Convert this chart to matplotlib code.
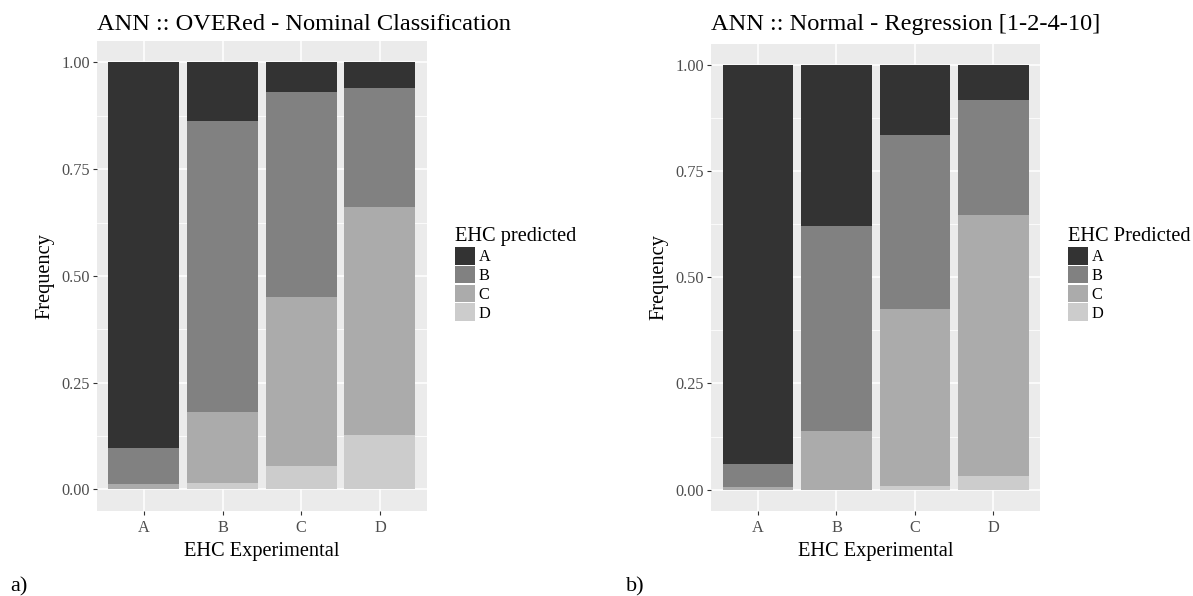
import numpy as np
import matplotlib
matplotlib.use('Agg')
import matplotlib.pyplot as plt
from matplotlib.patches import Patch
from matplotlib.ticker import MultipleLocator

plt.rcParams['font.family'] = ['Liberation Serif', 'DejaVu Serif']

# categories
experimental = ['A', 'B', 'C', 'D']
predicted = ['A', 'B', 'C', 'D']
colors = ['#333333', '#818181', '#ABABAB', '#CCCCCC']

# left panel: share of each predicted class per experimental class
left_A = [0.902, 0.138, 0.068, 0.059]
left_B = [0.086, 0.681, 0.481, 0.279]
left_C = [0.012, 0.166, 0.396, 0.535]
left_D = [0.000, 0.015, 0.055, 0.127]

# right panel
right_A = [0.940, 0.379, 0.165, 0.082]
right_B = [0.055, 0.483, 0.410, 0.271]
right_C = [0.005, 0.138, 0.417, 0.616]
right_D = [0.000, 0.000, 0.008, 0.031]

fig = plt.figure(figsize=(11.93, 5.96), dpi=100)


def panel(rect, shares, title, title_pad, legend_title, legend_x):
    ax = fig.add_axes(rect)
    ax.set_facecolor('#EBEBEB')
    x = np.arange(len(experimental))
    # stack from D at bottom up to A at top
    bottom = np.zeros(len(experimental))
    for i in [3, 2, 1, 0]:
        ax.bar(x, shares[i], 0.9, bottom=bottom, color=colors[i], linewidth=0, zorder=3)
        bottom = bottom + np.array(shares[i])
    ax.set_xlim(-0.6, 3.6)
    ax.set_ylim(-0.05, 1.05)
    ax.set_xticks(x)
    ax.set_xticklabels(experimental)
    ax.set_yticks([0, 0.25, 0.5, 0.75, 1.0])
    ax.set_yticklabels(['0.00', '0.25', '0.50', '0.75', '1.00'])
    ax.yaxis.set_minor_locator(MultipleLocator(0.125))
    ax.grid(True, which='major', color='white', linewidth=1.1, zorder=0)
    ax.grid(True, which='minor', axis='y', color='white', linewidth=0.55, zorder=0)
    ax.set_axisbelow(True)
    for s in ax.spines.values():
        s.set_visible(False)
    ax.tick_params(which='major', length=3, width=0.8, color='#333333',
                   labelcolor='#4D4D4D', labelsize=11.7, pad=2)
    ax.tick_params(axis='x', which='major', pad=4)
    ax.tick_params(which='minor', length=0)
    ax.set_xlabel('EHC Experimental', fontsize=14.7, color='black', labelpad=4)
    ax.set_ylabel('Frequency', fontsize=14.7, color='black', labelpad=5)
    ax.set_title(title, fontsize=17.6, loc='left', pad=title_pad)

    handles = [Patch(facecolor=colors[i], edgecolor='none', label=predicted[i]) for i in range(4)]
    fig.legend(handles=handles, title=legend_title, loc='upper left',
               bbox_to_anchor=(legend_x, 0.632), frameon=False, fontsize=11.7,
               title_fontsize=14.7, handlelength=1.25, handleheight=1.3,
               handletextpad=0.2, labelspacing=0.03, borderpad=0,
               alignment='left')
    return ax


panel([0.081, 0.143, 0.277, 0.788],
      [left_A, left_B, left_C, left_D],
      'ANN :: OVERed - Nominal Classification', 8, 'EHC predicted', 0.3747)
panel([0.596, 0.143, 0.276, 0.783],
      [right_A, right_B, right_C, right_D],
      'ANN :: Normal - Regression [1-2-4-10]', 10, 'EHC Predicted', 0.8885)

fig.text(0.009, 0.007, 'a)', fontsize=16, va='baseline')
fig.text(0.525, 0.007, 'b)', fontsize=16, va='baseline')

fig.savefig('out.png', dpi=100)
